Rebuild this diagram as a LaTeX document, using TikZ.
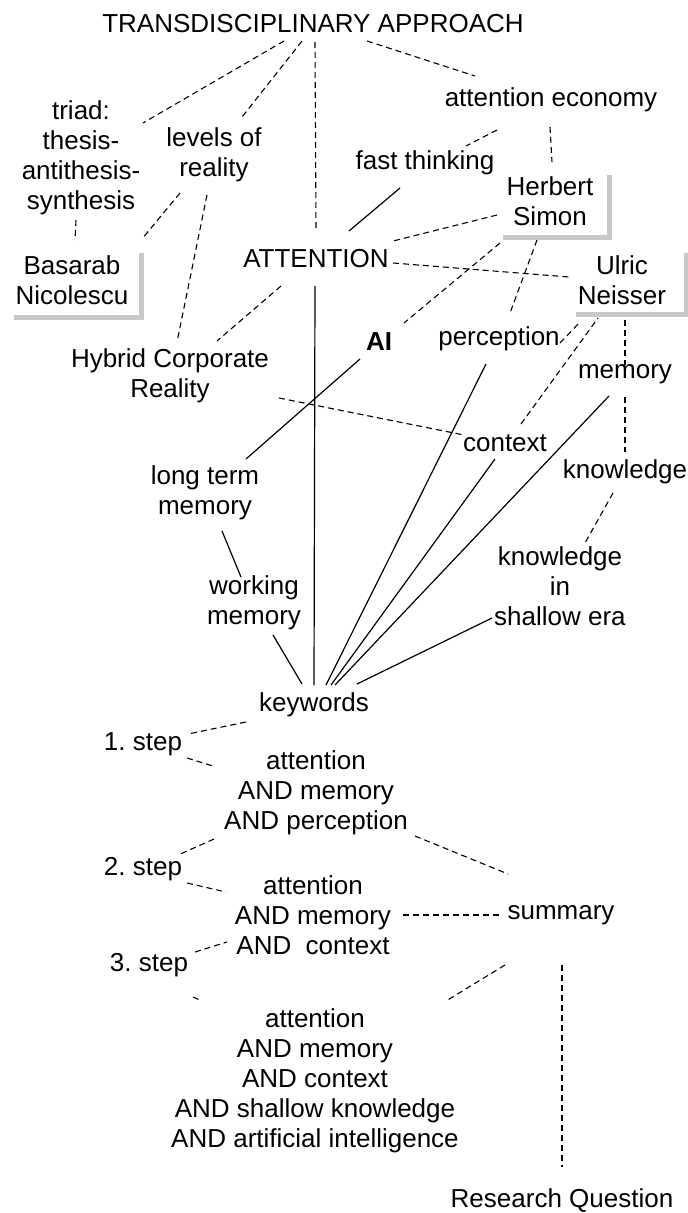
\documentclass[tikz,border=0pt]{standalone}
\usepackage{fontspec}
\setmainfont{Liberation Sans}
\usetikzlibrary{calc}
\definecolor{shadowgray}{RGB}{200,200,200}
\frenchspacing

\tikzset{
    dashline/.style={dash pattern=on 6pt off 4pt, line width=1.1pt},
    solidline/.style={line width=1.2pt},
    boxshadow/.style={shadowgray, line width=5pt},
}

\begin{document}
\begin{tikzpicture}[x=1pt, y=-1pt, every node/.style={font=\fontsize{26}{30}\selectfont, inner sep=0pt, align=center}]
    \useasboundingbox (0,0) rectangle (688,1213);
    % upper part
    \node (title) at (313,24) {TRANSDISCIPLINARY APPROACH};
    \node (triad) at (81,158) {triad:\\thesis-\\antithesis-\\synthesis};
    \node (levels) at (214,155) {levels of\\reality};
    \node (econ) at (551,100) {attention economy};
    \node (fast) at (425,163) {fast thinking};
    \node (herbert) at (550,201) {Herbert\\Simon};
    \node (attention) at (316,259) {ATTENTION};
    \node (basarab) at (72,280) {Basarab\\Nicolescu};
    \node (ulric) at (622,280) {Ulric\\Neisser};
    \node (ai) at (379,342) {\textbf{AI}};
    \node (perc) at (499,339) {perception};
    \node (hybrid) at (170,376) {Hybrid Corporate\\Reality};
    \node (mem) at (625,374) {memory};
    \node (context) at (505,443) {context};
    \node (knowl) at (625,472) {knowledge};
    \node (ltm) at (205,493) {long term\\memory};
    \node (kse) at (560,586) {knowledge\\in\\shallow era};
    \node (wm) at (254,603) {working\\memory};
    \node (kw) at (314,705) {keywords};
    % search steps
    \node (s1) at (143,744) {1. step};
    \node (b1) at (316,793) {attention\\AND memory\\AND perception};
    \node (s2) at (143,869) {2. step};
    \node (b2) at (313,915) {attention\\AND memory\\AND\ \ context};
    \node (summ) at (561,915) {summary};
    \node (s3) at (149,965) {3. step};
    \node (b3) at (315,1081) {attention\\AND memory\\AND context\\AND shallow knowledge\\AND artificial intelligence};
    \node (rq) at (562,1201) {Research Question};

    % grey shadows
    \foreach \n/\r/\t/\bo/\l in {herbert/59/-26/36/-47, basarab/69/-27/37/-58, ulric/64/-27/34/-46}
        \draw[boxshadow] ($(\n)+(\r,\t)$) |- ($(\n)+(\l,\bo)$);

    % dashed links
    \foreach \a/\ax/\ay/\b/\bx/\by in {
        title/-29/17/triad/62/-35, title/-11/17/levels/28/-38,
        title/2/18/attention/0/-29, title/54/17/econ/-76/-24,
        econ/-54/30/fast/41/-17, econ/-1/27/herbert/2/-39,
        triad/-5/62/basarab/3/-40, levels/-34/38/basarab/70/-41,
        levels/-7/40/hybrid/7/-34, herbert/-53/14/attention/77/-18,
        attention/77/4/ulric/-53/-3, herbert/-50/42/ai/25/-19,
        herbert/-13/39/perc/11/-26, attention/-35/27/hybrid/47/-35,
        perc/61/4/ulric/-42/42, context/16/-19/ulric/-24/38,
        ulric/3/40/mem/0/-9, mem/0/23/knowl/0/-20,
        hybrid/109/22/context/-41/-8, knowl/-12/21/kse/25/-43,
        kw/-68/17/s1/45/-10, s1/44/14/b1/-103/-27,
        b1/-102/46/s2/35/-14, b1/99/43/summ/-53/-41,
        s2/44/14/b2/-87/-23, b2/90/0/summ/-60/0,
        s3/46/-13/b2/-86/27, s3/44/32/b3/-115/-81,
        summ/-56/50/b3/131/-80, summ/1/50/rq/0/-34}
        \draw[dashline] ($(\a)+(\ax,\ay)$) -- ($(\b)+(\bx,\by)$);

    % solid links
    \foreach \a/\ax/\ay/\b/\bx/\by in {
        fast/-25/25/attention/33/-28, attention/-1/27/kw/0/-20,
        ai/-19/17/ltm/41/-34, perc/-13/25/kw/12/-20,
        context/-10/16/kw/17/-20, mem/-16/22/kw/21/-20,
        ltm/17/38/wm/-13/-26, wm/19/32/kw/-12/-21,
        kse/-68/32/kw/43/-21}
        \draw[solidline] ($(\a)+(\ax,\ay)$) -- ($(\b)+(\bx,\by)$);
\end{tikzpicture}
\end{document}
